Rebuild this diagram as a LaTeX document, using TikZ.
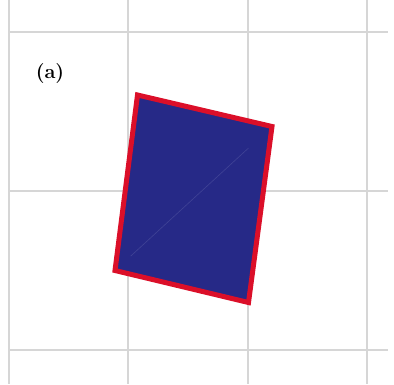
\documentclass[tikz,border=0pt]{standalone}
\usepackage{fontspec}
\usetikzlibrary{calc}
\definecolor{GridClr}{rgb}{0.84,0.84,0.84}
\definecolor{EdgeClr}{rgb}{0.86,0.06,0.16}
\definecolor{FaceClr}{rgb}{0.15,0.16,0.53}

\begin{document}
\begin{tikzpicture}[x=1pt,y=-1pt]
\tikzset{gridline/.style={line width=1.6pt,color=GridClr}}
\useasboundingbox (0,0) rectangle (394,384);

% Draw the grid behind the panel.
\foreach \xg in {9,128,248,367}
  \draw[gridline] (\xg,0) -- (\xg,384);
\foreach \yg in {32,191,350}
  \draw[gridline] (8,\yg) -- (388,\yg);

% Define the corners of the tilted plate.
\coordinate (P1) at (137.5,95);
\coordinate (P2) at (272,126.5);
\coordinate (P3) at (248.5,302.5);
\coordinate (P4) at (115,270.5);

% Draw the plate.
\draw[line width=5pt,line join=miter,color=EdgeClr,fill=FaceClr] (P1) -- (P2) -- (P3) -- (P4) -- cycle;
\draw[line width=0.6pt,color=FaceClr!88!white] ($(P4)!0.1!(P2)$) -- ($(P4)!0.85!(P2)$);

\node[font=\fontsize{20}{20}\selectfont\bfseries] (lab) at (50,74) {(a)};

\end{tikzpicture}
\end{document}
